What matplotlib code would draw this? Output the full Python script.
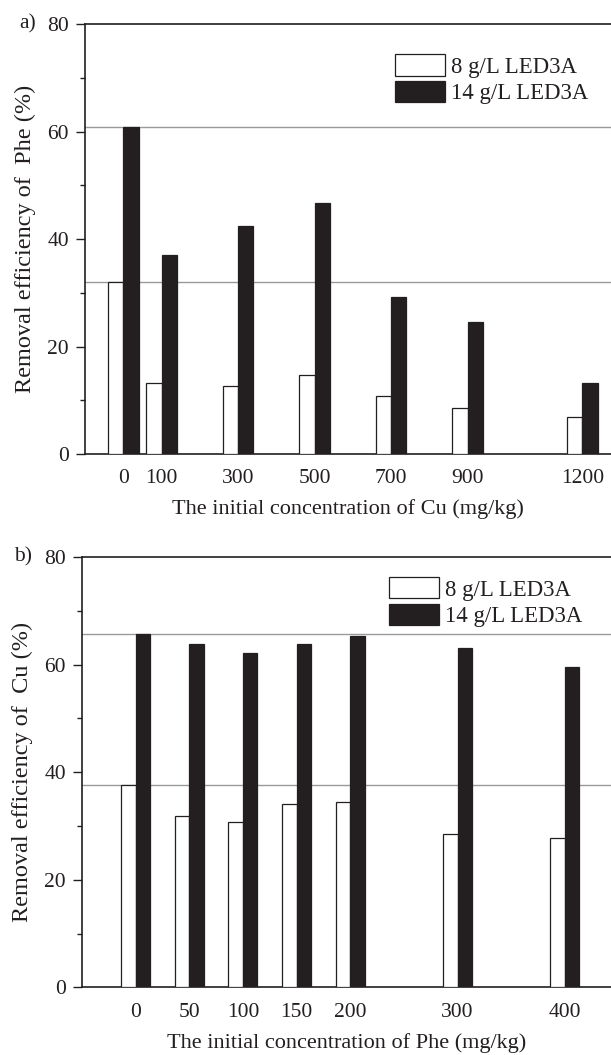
import numpy as np
import matplotlib
matplotlib.use("Agg")
import matplotlib.pyplot as plt

# panel a: removal of Phe vs initial Cu
cu_conc = [0, 100, 300, 500, 700, 900, 1200]
phe_8g = [32.0, 13.2, 12.7, 14.8, 10.8, 8.5, 6.85]
phe_14g = [60.9, 37.0, 42.5, 46.8, 29.2, 24.6, 13.3]

# panel b: removal of Cu vs initial Phe
phe_conc = [0, 50, 100, 150, 200, 300, 400]
cu_8g = [37.6, 31.9, 30.75, 34.0, 34.4, 28.5, 27.7]
cu_14g = [65.7, 63.9, 62.2, 63.8, 65.4, 63.1, 59.5]

series_labels = ["8 g/L LED3A", "14 g/L LED3A"]
yticks = [0, 20, 40, 60, 80]

INK = "#231f20"
plt.rcParams["font.family"] = ["Liberation Serif", "DejaVu Serif"]
plt.rcParams["font.size"] = 15.5
plt.rcParams["text.color"] = INK
plt.rcParams["axes.labelcolor"] = INK


def draw_panel(ax, conc, white, black, width, xlim, xlabel, ylabel, leg_anchor):
    x = np.array(conc, dtype=float)
    ax.bar(x - width / 2, white, width, color="white", edgecolor=INK,
           linewidth=0.9, label=series_labels[0], zorder=3)
    ax.bar(x + width / 2, black, width, color=INK, edgecolor=INK,
           linewidth=0.9, label=series_labels[1], zorder=3)
    # reference lines at the control (no co-contaminant) level
    ax.axhline(white[0], color="#9a9a9a", linewidth=1.0, zorder=1)
    ax.axhline(black[0], color="#9a9a9a", linewidth=1.0, zorder=1)

    ax.set_xlim(*xlim)
    ax.set_ylim(0, 80)
    ax.set_xticks(conc)
    ax.set_xticklabels([str(c) for c in conc])
    ax.set_yticks(yticks)
    ax.set_yticks([10, 30, 50, 70], minor=True)
    ax.tick_params(axis="x", length=0, pad=11, colors=INK, labelsize=15.5)
    ax.tick_params(axis="y", which="major", direction="out", length=6.5,
                   width=1.0, pad=5, colors=INK, labelsize=15.5)
    ax.tick_params(axis="y", which="minor", direction="out", length=3.5,
                   width=1.0, colors=INK)
    for s in ("left", "bottom", "top"):
        ax.spines[s].set_color(INK)
        ax.spines[s].set_linewidth(1.2)
    ax.spines["right"].set_visible(False)

    ax.set_xlabel(xlabel, fontsize=16, labelpad=8)
    ax.set_ylabel(ylabel, fontsize=17.5, labelpad=8)
    ax.legend(loc="upper left", bbox_to_anchor=leg_anchor, frameon=False,
              fontsize=16.4, borderpad=0, borderaxespad=0, handlelength=2.2,
              handleheight=1.05, labelspacing=0.13, handletextpad=0.27)


def generate_plot():
    fig = plt.figure(figsize=(6.11, 10.55), dpi=100)
    ax1 = fig.add_axes([85 / 611, 1 - 454 / 1055, 1 - 85 / 611, (454 - 24.3) / 1055])
    ax2 = fig.add_axes([82 / 611, 1 - 987.3 / 1055, 1 - 82 / 611, (987.3 - 557) / 1055])

    draw_panel(ax1, cu_conc, phe_8g, phe_14g, 40, (-100, 1275),
               "The initial concentration of Cu (mg/kg)",
               "Removal efficiency of  Phe (%)", (0.589, 0.930))
    draw_panel(ax2, phe_conc, cu_8g, cu_14g, 13.5, (-50, 443),
               "The initial concentration of Phe (mg/kg)",
               "Removal efficiency of  Cu (%)", (0.580, 0.953))

    fig.text(28 / 611, 1 - 24 / 1055, "a)", ha="center", va="center", fontsize=15.5)
    fig.text(23 / 611, 1 - 557 / 1055, "b)", ha="center", va="center", fontsize=15.5)

    fig.savefig("out.png", dpi=100)


if __name__ == "__main__":
    generate_plot()
